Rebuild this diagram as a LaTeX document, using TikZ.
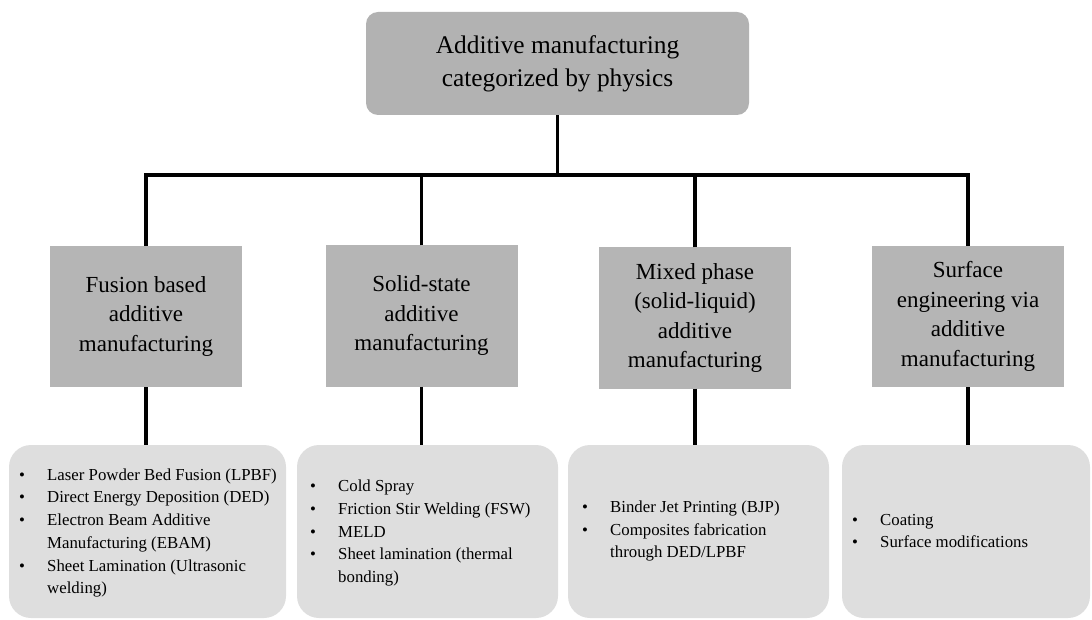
\documentclass[tikz,border=0pt]{standalone}
\usepackage{fontspec}
\setmainfont{Liberation Serif}
\definecolor{topgray}{HTML}{B2B2B2}
\definecolor{midgray}{HTML}{B5B5B5}
\definecolor{lowgray}{HTML}{DEDEDE}
\newcommand{\bitem}[1]{\makebox[28pt][l]{\textbullet}#1}
\newcommand{\bcont}[1]{\makebox[28pt][l]{}#1}
\begin{document}
\begin{tikzpicture}[x=1pt,y=-1pt,
  topbox/.style={fill=topgray, rounded corners=12pt, minimum width=383pt, minimum height=103pt, align=center, inner sep=0pt, font=\fontsize{25.4}{33}\selectfont},
  midbox/.style={fill=midgray, minimum width=192pt, minimum height=141pt, align=center, inner sep=0pt, font=\fontsize{23}{29.5}\selectfont},
  lowbox/.style={fill=lowgray, rounded corners=22pt, minimum height=173pt, inner sep=0pt},
  listtext/.style={anchor=west, align=left, inner sep=0pt, font=\fontsize{16.8}{22.7}\selectfont},
  conn/.style={line width=3.3pt, black}]
\useasboundingbox (0,0) rectangle (1092,620);
% top
\node[topbox] (top) at (557.5,63.5) {Additive manufacturing\\categorized by physics};
% level 2
\node[midbox] (fus) at (146,316.5) {Fusion based\\additive\\manufacturing};
\node[midbox] (sol) at (421.5,316) {Solid-state\\additive\\manufacturing};
\node[midbox] (mix) at (695,318) {Mixed phase\\(solid-liquid)\\additive\\manufacturing};
\node[midbox] (sur) at (968,316.5) {Surface\\engineering via\\additive\\manufacturing};
% bottom boxes
\node[lowbox, minimum width=277pt] (b1) at (147.5,531.5) {};
\node[lowbox, minimum width=261pt] (b2) at (427.5,531.5) {};
\node[lowbox, minimum width=261pt] (b3) at (698.5,531.5) {};
\node[lowbox, minimum width=248pt] (b4) at (966,531.5) {};
% list texts
\node[listtext] (t1) at (19,533) {\bitem{Laser Powder Bed Fusion (LPBF)}\\\bitem{Direct Energy Deposition (DED)}\\\bitem{Electron Beam Additive}\\\bcont{Manufacturing (EBAM)}\\\bitem{Sheet Lamination (Ultrasonic}\\\bcont{welding)}};
\node[listtext] (t2) at (310,533) {\bitem{Cold Spray}\\\bitem{Friction Stir Welding (FSW)}\\\bitem{MELD}\\\bitem{Sheet lamination (thermal}\\\bcont{bonding)}};
\node[listtext] (t3) at (582,531) {\bitem{Binder Jet Printing (BJP)}\\\bitem{Composites fabrication}\\\bcont{through DED/LPBF}};
\node[listtext] (t4) at (852,531) {\bitem{Coating}\\\bitem{Surface modifications}};
% connectors
\coordinate (bus) at (557.5,175);
\draw[conn] (top.south) -- (bus);
\draw[conn] (fus.north) -- (fus.north |- bus) -- (sur.north |- bus) -- (sur.north);
\draw[conn] (sol.north) -- (sol.north |- bus);
\draw[conn] (mix.north) -- (mix.north |- bus);
\draw[conn] (fus.south) -- (fus.south |- b1.north);
\draw[conn] (sol.south) -- (sol.south |- b2.north);
\draw[conn] (mix.south) -- (mix.south |- b3.north);
\draw[conn] (sur.south) -- (sur.south |- b4.north);
\end{tikzpicture}
\end{document}
